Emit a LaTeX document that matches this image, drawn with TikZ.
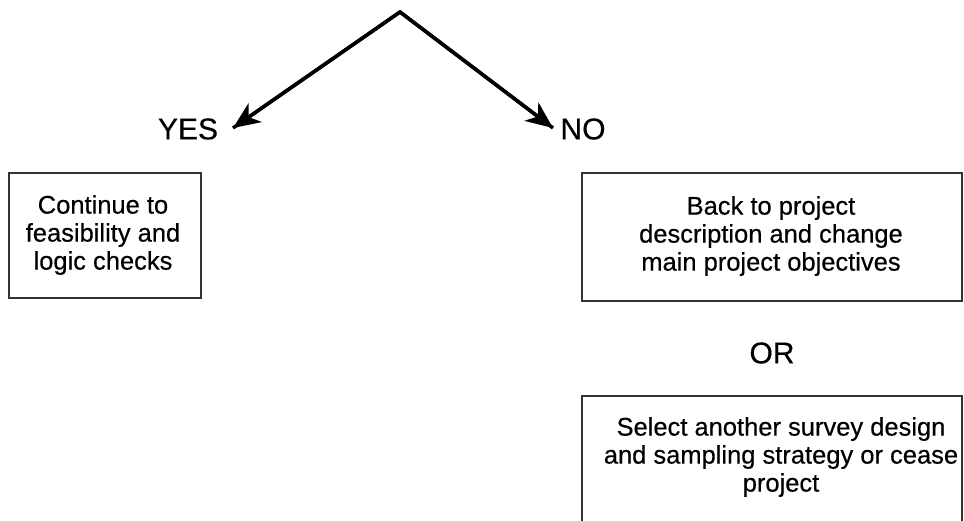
\documentclass[tikz,border=0pt]{standalone}
\usepackage{fontspec}
\setmainfont{Liberation Sans}[FakeBold=0.4]
\usetikzlibrary{arrows.meta}
\begin{document}
\begin{tikzpicture}[x=1pt,y=1pt,
  boxstyle/.style={draw=black!80,line width=1.5pt,inner sep=0pt},
  boxtext/.style={font=\fontsize{25.5}{28}\selectfont,align=center,text=black,inner sep=0pt},
  labeltext/.style={font=\fontsize{30}{32}\selectfont,text=black,inner sep=0pt},
  arrowline/.style={line width=3.5pt,-{Stealth[length=27pt,width=23pt,inset=8pt]}}
]
\useasboundingbox (0,0) rectangle (964,520);
\clip (0,0) rectangle (964,520);
% boxes
\draw[boxstyle] (9,347) rectangle (201,222);
\draw[boxstyle] (582,347) rectangle (962,219);
\draw[boxstyle] (582,124) rectangle (962,-30);
% texts
\node[boxtext] (cont) at (103,285) {Continue to\\feasibility and\\logic checks};
\node[boxtext] (back) at (771,284) {Back to project\\description and change\\main project objectives};
\node[boxtext] (sel) at (781,63) {Select another survey design\\and sampling strategy or cease\\project};
\node[labeltext] (yes) at (188,391) {YES};
\node[labeltext] (no) at (583,391) {NO};
\node[labeltext] (or) at (772,167) {OR};
% connectors
\coordinate (apex) at (400,508);
\coordinate (yestip) at (233,392);
\coordinate (notip) at (553,392);
\draw[line width=3.5pt,line join=miter] (yestip) -- (apex) -- (notip);
\draw[arrowline] (apex) -- (yestip);
\draw[arrowline] (apex) -- (notip);
\end{tikzpicture}
\end{document}
